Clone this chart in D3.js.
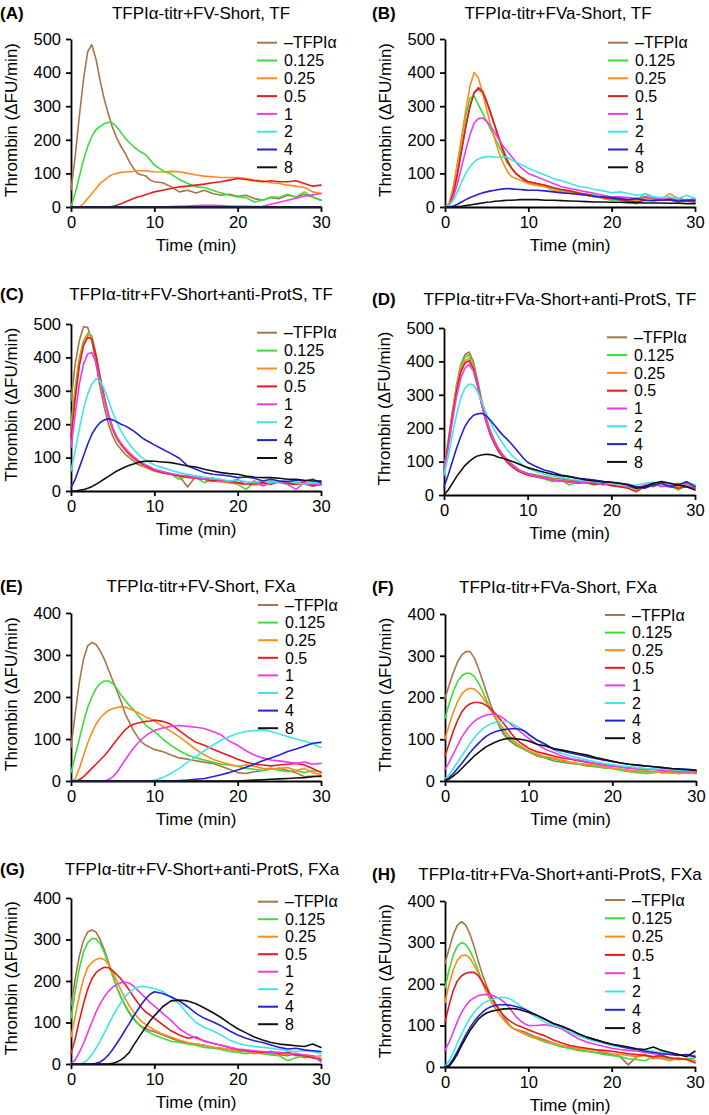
<!DOCTYPE html>
<html><head><meta charset="utf-8">
<script src="https://cdn.jsdelivr.net/npm/d3@7"></script>
<style>
html,body{margin:0;padding:0;background:#fff;}
svg{display:block;}
text{font-family:"Liberation Sans",Arial,Helvetica,sans-serif;}
</style></head><body>
<svg id="chart" width="709" height="1115"></svg>
<script>
// ---------- data ----------
const TIMES = [0,0.5,1,1.5,2,2.5,3,3.5,4,4.5,5,5.5,6,6.5,7,7.5,8,8.5,9,9.5,10,11,12,13,14,15,16,17,18,19,20,21,22,23,24,25,26,27,28,29,30];
const SERIES = ["\u2013TFPI\u03b1","0.125","0.25","0.5","1","2","4","8"];
const COLORS = ["#a87547","#3ddc3d","#ff8a1e","#e81a1e","#ec3aec","#3fe6e6","#2222d2","#111111"];
const X_TICKS = [0,10,20,30];
const Y_TICKS_500 = [0,100,200,300,400,500];
const Y_TICKS_400 = [0,100,200,300,400];
const TITLES = [
  "TFPI\u03b1-titr+FV-Short, TF",
  "TFPI\u03b1-titr+FVa-Short, TF",
  "TFPI\u03b1-titr+FV-Short+anti-ProtS, TF",
  "TFPI\u03b1-titr+FVa-Short+anti-ProtS, TF",
  "TFPI\u03b1-titr+FV-Short, FXa",
  "TFPI\u03b1-titr+FVa-Short, FXa",
  "TFPI\u03b1-titr+FV-Short+anti-ProtS, FXa",
  "TFPI\u03b1-titr+FVa-Short+anti-ProtS, FXa"
];
const LETTERS = ["(A)","(B)","(C)","(D)","(E)","(F)","(G)","(H)"];
const Y_MAX = [500,500,500,500,400,400,400,400];
const X_LABEL = "Time (min)";
const Y_LABEL = "Thrombin (\u0394FU/min)";

const PANEL_A = [
  [50,150,270,380,462,483,440,375,320,275,235,205,180,160,135,115,100,95,92,80,75, 72,60,45,50,42,50,40,35,38,32,35,25,20,28,25,35,30,38,30,20],
  [0,40,90,140,180,210,230,240,248,252,250,238,222,205,192,180,170,162,155,140,125, 108,98,82,70,60,58,50,42,35,30,28,15,20,30,28,38,30,45,30,20],
  [0,0,0,10,25,40,55,70,80,90,97,100,103,104,105,106,108,108,108,106,105, 104,106,105,100,95,92,90,88,88,88,85,80,78,72,70,65,62,58,45,40],
  [0,0,0,0,0,0,0,0,0,0,2,5,10,15,20,25,30,33,37,41,45, 50,55,60,62,65,68,72,75,80,85,82,78,75,78,75,75,78,70,62,65],
  [0,0,0,0,0,0,0,0,0,0,0,0,0,0,0,0,0,0,0,0,0, 0,1,2,3,4,5,5,4,3,2,2,1,2,8,14,20,26,32,36,40],
  [0,0,0,0,0,0,0,0,0,0,0,0,0,0,0,0,0,0,0,0,0, 0,0,0,0,0,0,0,0,0,0,0,0,0,0,0,0,0,0,0,0],
  [0,0,0,0,0,0,0,0,0,0,0,0,0,0,0,0,0,0,0,0,0, 0,0,0,0,0,0,0,0,0,0,0,0,0,0,0,0,0,0,0,0],
  [0,0,0,0,0,0,0,0,0,0,0,0,0,0,0,0,0,0,0,0,0, 0,0,0,0,0,0,0,0,0,0,0,0,0,0,0,0,0,0,0,0]
];
const PANEL_B = [
  [0,5,40,100,170,240,300,340,350,340,310,275,240,205,170,140,115,100,90,85,75, 70,65,55,50,45,40,35,30,28,25,20,15,10,30,25,20,25,20,22,20],
  [0,10,60,130,200,270,325,330,305,280,255,230,205,180,155,130,115,100,90,80,70, 65,60,55,50,45,40,38,35,25,20,22,18,20,40,30,25,20,25,20,15],
  [0,10,60,130,210,290,360,400,385,340,290,240,200,160,130,105,90,85,80,75,70, 65,60,50,45,40,38,35,30,28,25,25,20,20,25,30,25,40,25,20,22],
  [0,5,40,100,170,240,300,340,355,345,315,280,240,200,165,135,115,100,90,80,75, 70,65,58,52,48,42,38,32,28,25,22,18,15,20,18,22,20,15,18,15],
  [0,5,30,70,120,170,215,250,263,265,255,240,220,200,180,165,150,135,120,110,100, 90,80,70,60,55,50,45,40,35,30,30,28,25,30,28,25,22,25,20,25],
  [0,5,20,45,75,100,120,135,143,147,150,150,148,148,150,148,140,135,128,122,115, 105,95,85,78,70,62,58,52,48,42,45,40,35,38,30,28,30,25,35,25],
  [0,0,3,8,15,22,28,33,38,42,45,48,50,52,54,55,54,53,52,51,50, 50,48,45,42,40,38,35,32,30,28,25,22,25,20,20,20,22,18,20,20],
  [0,0,0,1,2,4,6,8,10,12,14,15,17,18,19,20,20,21,22,22,22, 22,20,20,19,18,17,16,15,15,14,14,13,13,12,12,12,11,11,10,10]
];
const PANEL_C = [
  [270,380,450,492,490,450,380,310,250,200,165,140,125,110,100,90,80,75,70,65,60, 55,50,45,12,45,35,30,28,30,25,20,25,20,25,30,25,22,25,20,25],
  [200,310,400,450,472,465,410,340,280,225,185,160,140,125,110,100,90,80,70,65,60, 55,50,35,45,40,25,35,30,25,20,5,25,20,30,25,20,25,20,15,20],
  [175,290,390,445,468,460,405,335,275,222,182,155,138,122,108,98,88,80,72,66,60, 55,50,45,40,38,35,30,28,25,22,20,18,20,25,28,25,20,22,20,25],
  [160,275,375,435,460,455,405,340,280,228,188,160,140,125,112,100,90,82,75,68,62, 55,50,45,42,38,35,30,32,28,25,20,22,25,20,28,22,20,25,15,20],
  [130,230,320,380,410,415,385,330,275,228,190,162,143,128,115,103,93,85,78,72,65, 58,52,48,45,40,35,40,30,28,35,20,30,15,25,30,20,5,25,20,18],
  [60,120,185,245,290,320,335,330,305,270,235,205,180,158,140,125,112,100,92,85,78, 70,62,55,50,45,42,38,35,30,32,28,25,30,25,28,30,25,20,25,25],
  [10,35,70,105,140,170,190,205,213,216,213,207,200,195,188,180,170,160,152,145,138, 125,112,98,75,65,55,50,48,45,40,42,38,30,35,30,28,32,30,35,25],
  [0,0,2,4,8,13,20,28,36,44,52,60,66,72,77,81,85,88,89,90,89, 87,85,80,75,72,65,60,55,52,50,45,42,40,40,38,35,35,32,30,30]
];
const PANEL_D = [
  [80,160,250,330,390,420,428,400,345,285,235,195,165,140,122,108,95,85,75,70,65, 60,55,50,48,45,42,40,38,35,35,30,25,20,30,25,35,30,25,35,25],
  [80,160,245,325,385,412,420,392,335,275,225,185,155,132,115,100,88,78,70,65,60, 55,48,40,45,30,40,35,30,40,30,35,28,15,30,35,28,30,15,30,25],
  [75,155,240,318,375,402,410,385,330,272,222,183,155,132,115,100,88,78,70,64,60, 55,50,45,42,40,38,35,35,32,30,25,28,20,25,30,35,30,25,30,28],
  [75,150,235,310,368,395,402,380,330,272,222,183,155,132,115,100,88,78,70,65,60, 55,50,45,42,40,35,38,32,35,28,25,20,10,25,30,28,25,20,25,20],
  [75,140,220,295,350,380,390,372,325,272,225,188,160,138,120,105,92,82,74,68,62, 56,50,45,42,38,40,35,40,30,35,30,25,20,30,35,25,30,35,25,30],
  [60,115,180,240,290,320,332,330,310,280,248,220,195,175,155,138,122,110,98,88,80, 70,62,56,52,48,45,42,40,38,35,30,28,30,35,38,30,35,30,40,30],
  [25,60,100,140,175,205,225,238,243,245,238,225,210,195,180,168,155,140,125,110,98, 85,75,68,60,55,50,48,45,40,38,35,32,25,20,30,35,25,30,40,25],
  [0,15,35,55,72,88,100,110,117,120,122,121,118,113,110,106,102,97,92,87,82, 75,68,62,58,55,50,45,42,40,38,35,30,20,25,35,40,35,30,25,15]
];
const PANEL_E = [
  [80,160,235,290,322,330,325,310,290,265,240,215,190,160,140,120,105,92,85,80,75, 70,62,55,52,48,45,42,35,28,20,18,22,25,28,30,25,20,10,12,10],
  [20,60,100,140,175,200,220,232,238,238,232,220,205,192,180,170,158,145,132,125,118, 100,85,72,62,55,50,45,40,38,35,30,28,25,30,25,22,25,20,25,22],
  [0,5,30,60,90,115,135,150,160,168,172,175,177,176,172,168,163,158,152,148,143, 130,118,105,90,75,62,52,45,40,35,38,35,30,28,30,32,25,30,20,15],
  [0,0,3,10,20,30,40,50,60,72,85,98,110,122,130,135,138,140,142,143,145, 142,135,120,105,92,85,76,68,60,52,45,40,38,36,38,40,42,38,30,20],
  [0,0,0,0,0,0,0,0,0,3,10,20,35,50,65,78,90,100,108,115,120, 126,130,132,130,128,125,118,110,95,85,72,62,55,50,48,45,42,45,40,42],
  [0,0,0,0,0,0,0,0,0,0,0,0,0,0,0,0,0,0,0,0,2, 8,18,30,45,58,72,85,97,106,113,118,120,122,118,112,106,100,95,88,80],
  [0,0,0,0,0,0,0,0,0,0,0,0,0,0,0,0,0,0,0,0,0, 0,0,1,2,4,6,10,15,20,26,33,40,48,55,62,70,76,83,90,92],
  [0,0,0,0,0,0,0,0,0,0,0,0,0,0,0,0,0,0,0,0,0, 0,0,0,0,0,0,0,0,0,0,1,2,3,4,5,6,7,8,10,12]
];
const PANEL_F = [
  [198,230,260,285,302,310,310,295,270,240,210,180,155,130,112,100,92,85,80,75,70, 60,55,48,45,42,40,36,34,32,30,28,25,24,22,22,20,20,18,20,18],
  [150,185,215,238,252,258,258,250,235,215,192,170,150,132,118,105,95,88,82,76,70, 62,57,52,48,44,40,38,35,32,30,25,22,20,18,20,22,20,18,20,18],
  [100,135,165,190,208,218,222,220,212,200,185,168,152,138,125,112,100,92,85,78,72, 65,58,55,50,45,42,40,38,35,30,28,25,22,25,22,20,20,18,20,20],
  [60,90,120,145,165,178,185,188,188,186,180,172,162,150,138,125,112,100,92,85,78, 70,65,60,55,52,48,45,42,40,38,35,32,30,28,28,25,25,22,25,22],
  [28,45,65,85,105,120,133,143,150,155,158,160,160,156,150,142,134,126,118,110,102, 88,76,68,60,54,50,46,42,38,35,33,30,29,28,27,26,24,23,22,22],
  [5,15,30,45,60,75,90,103,115,125,132,137,140,142,143,142,138,132,126,118,110, 98,85,75,66,60,55,50,46,42,39,36,34,32,30,29,28,27,26,25,24],
  [2,8,18,30,42,55,68,80,90,100,108,114,118,121,123,124,125,125,124,120,112, 98,88,76,72,67,63,58,54,50,47,43,40,38,36,34,32,30,29,28,26],
  [0,5,12,20,30,40,50,60,68,76,83,88,93,97,100,102,102,101,100,98,96, 88,84,78,74,70,66,62,56,52,47,43,40,38,36,34,32,30,28,27,25]
];
const PANEL_G = [
  [140,205,260,298,318,323,318,300,275,245,215,185,160,140,122,108,98,90,85,80,78, 70,62,55,50,48,45,40,38,35,32,30,25,28,25,22,20,25,15,20,10],
  [110,175,230,270,292,302,302,290,268,240,212,185,162,142,125,110,98,88,80,75,70, 62,55,52,48,45,40,38,35,30,28,25,28,25,22,20,8,15,20,15,15],
  [65,115,165,205,232,245,252,255,252,240,222,200,178,158,140,125,112,102,95,88,82, 72,65,58,52,48,45,40,38,35,32,30,28,25,28,22,25,20,22,18,20],
  [25,60,105,145,180,205,220,228,233,232,225,215,205,192,178,162,148,135,125,118,110, 95,80,70,62,65,55,50,45,40,35,32,30,28,30,25,28,22,20,15,10],
  [0,10,28,50,75,100,125,145,162,175,185,192,196,197,195,188,178,168,158,148,140, 122,105,85,72,62,56,50,45,40,36,34,32,30,28,28,25,25,22,20,5],
  [0,0,0,3,10,22,38,55,75,95,115,132,148,162,173,180,185,187,186,184,182, 175,160,145,120,100,88,80,70,58,50,45,42,40,38,35,32,30,32,30,25],
  [0,0,0,0,0,0,2,5,12,22,35,50,65,82,98,115,130,145,158,168,174, 170,162,152,138,122,110,102,92,80,70,62,56,52,46,40,36,38,34,32,30],
  [0,0,0,0,0,0,0,0,0,0,2,5,10,18,28,45,60,75,90,104,116, 138,152,154,152,145,135,124,112,98,85,75,65,58,52,48,46,44,42,48,40]
];
const PANEL_H = [
  [250,285,320,342,350,342,320,290,255,222,195,172,155,140,122,108,95,90,88,85,80, 72,65,58,50,45,40,38,35,33,30,25,5,25,30,20,25,20,18,20,15],
  [190,235,270,292,300,295,280,258,232,205,180,160,142,128,115,105,96,90,85,80,75, 68,60,55,48,45,42,38,35,30,28,25,20,18,15,25,22,20,18,20,22],
  [155,200,235,258,268,270,262,245,225,202,180,160,142,128,115,104,95,90,85,80,76, 70,62,58,52,48,45,42,40,36,32,30,28,25,28,22,20,15,22,18,15],
  [108,150,185,208,220,226,228,228,220,205,188,170,152,138,125,115,108,102,98,94,90, 82,75,65,58,52,48,45,42,40,38,35,32,30,28,25,28,22,20,18,10],
  [40,60,85,110,132,148,160,167,172,174,175,174,170,165,158,148,135,122,112,105,100, 100,102,98,92,80,68,60,55,50,45,42,40,38,35,32,30,32,30,28,25],
  [0,15,35,58,80,100,118,132,143,152,158,162,165,167,168,166,162,155,148,140,132, 120,108,100,95,85,75,68,62,58,52,48,45,42,40,38,35,32,30,28,28],
  [0,5,20,38,58,78,95,110,122,132,140,145,148,150,150,150,148,146,143,140,135, 125,115,105,98,90,80,72,66,60,55,50,45,42,38,35,32,30,28,30,25],
  [0,2,15,32,52,70,88,102,115,124,130,134,136,138,140,140,141,140,138,135,132, 125,115,105,98,90,80,72,66,60,55,52,48,44,42,48,40,35,30,25,38]
];
const PANELS = [PANEL_A,PANEL_B,PANEL_C,PANEL_D,PANEL_E,PANEL_F,PANEL_G,PANEL_H];

// ---------- layout (positions only) ----------
const LAYOUT = [
  {left:71, right:321, top:39,  bottom:207,  titleX:201, titleY:19,  letterX:0,   legX:257, legY:42.7, legStep:17.8},
  {left:445,right:695, top:39,  bottom:207,  titleX:558, titleY:19,  letterX:372, legX:608, legY:42.7, legStep:17.8},
  {left:71, right:321, top:324, bottom:491,  titleX:201, titleY:300, letterX:0,   legX:257, legY:332.7,legStep:17.9},
  {left:444,right:695, top:328, bottom:495,  titleX:560, titleY:305, letterX:372, legX:607, legY:337.3,legStep:17.8},
  {left:71, right:321, top:613, bottom:781,  titleX:201, titleY:592, letterX:0,   legX:258, legY:605,  legStep:17.6},
  {left:445,right:696, top:614, bottom:781,  titleX:558, titleY:593, letterX:372, legX:605, legY:615,  legStep:17.6},
  {left:71, right:321, top:898, bottom:1064, titleX:202, titleY:875, letterX:0,   legX:258, legY:901.7,legStep:17.5},
  {left:445,right:695, top:901, bottom:1067, titleX:560, titleY:880, letterX:372, legX:605, legY:900,  legStep:18.3}
];

const svg = d3.select('#chart');
const FONT = '"Liberation Sans", Arial, Helvetica, sans-serif';

LAYOUT.forEach((L, i) => {
  const data = PANELS[i];
  const x = d3.scaleLinear().domain([0, 30]).range([L.left, L.right]);
  const y = d3.scaleLinear().domain([0, Y_MAX[i]]).range([L.bottom, L.top]);
  const g = svg.append('g');

  // axes
  const yAxis = g.append('g').attr('transform', `translate(${L.left},0)`)
    .call(d3.axisLeft(y).tickValues(Y_MAX[i] === 500 ? Y_TICKS_500 : Y_TICKS_400)
      .tickSize(5).tickSizeOuter(0).tickPadding(5).tickFormat(d3.format('d')));
  const xAxis = g.append('g').attr('transform', `translate(0,${L.bottom})`)
    .call(d3.axisBottom(x).tickValues(X_TICKS).tickSize(5).tickSizeOuter(0).tickPadding(4).tickFormat(d3.format('d')));
  [yAxis, xAxis].forEach(a => {
    a.attr('font-family', FONT).attr('font-size', 16.5);
    a.selectAll('path.domain').attr('stroke', '#000').attr('stroke-width', 1.8);
    a.selectAll('.tick line').attr('stroke', '#000').attr('stroke-width', 1.8);
    a.selectAll('.tick text').attr('fill', '#000');
  });

  // lines
  const line = d3.line().x((d, j) => x(TIMES[j])).y(d => y(d)).curve(d3.curveLinear);
  data.forEach((vals, k) => {
    g.append('path').attr('d', line(vals)).attr('fill', 'none')
      .attr('stroke', COLORS[k]).attr('stroke-width', 1.6)
      .attr('stroke-linejoin', 'round').attr('stroke-linecap', 'round');
  });

  // legend
  SERIES.forEach((s, k) => {
    const cy = L.legY + k * L.legStep;
    g.append('line').attr('x1', L.legX).attr('x2', L.legX + 20).attr('y1', cy).attr('y2', cy)
      .attr('stroke', COLORS[k]).attr('stroke-width', 2);
    g.append('text').attr('x', L.legX + 27).attr('y', cy).attr('dy', '0.36em')
      .attr('font-size', 16).attr('fill', '#000').text(s);
  });

  // titles
  g.append('text').attr('x', L.letterX).attr('y', L.titleY).attr('font-size', 17)
    .attr('font-weight', 'bold').attr('fill', '#000').text(LETTERS[i]);
  g.append('text').attr('x', L.titleX).attr('y', L.titleY).attr('font-size', 17)
    .attr('text-anchor', 'middle').attr('fill', '#000').text(TITLES[i]);

  // axis labels
  g.append('text').attr('x', (L.left + L.right) / 2).attr('y', L.bottom + 44)
    .attr('font-size', 17).attr('text-anchor', 'middle').attr('fill', '#000').text(X_LABEL);
  g.append('text').attr('transform', `translate(${L.left - 54},${(L.top + L.bottom) / 2 - 3}) rotate(-90)`)
    .attr('font-size', 17).attr('text-anchor', 'middle').attr('fill', '#000').text(Y_LABEL);
});
</script>
</body></html>
